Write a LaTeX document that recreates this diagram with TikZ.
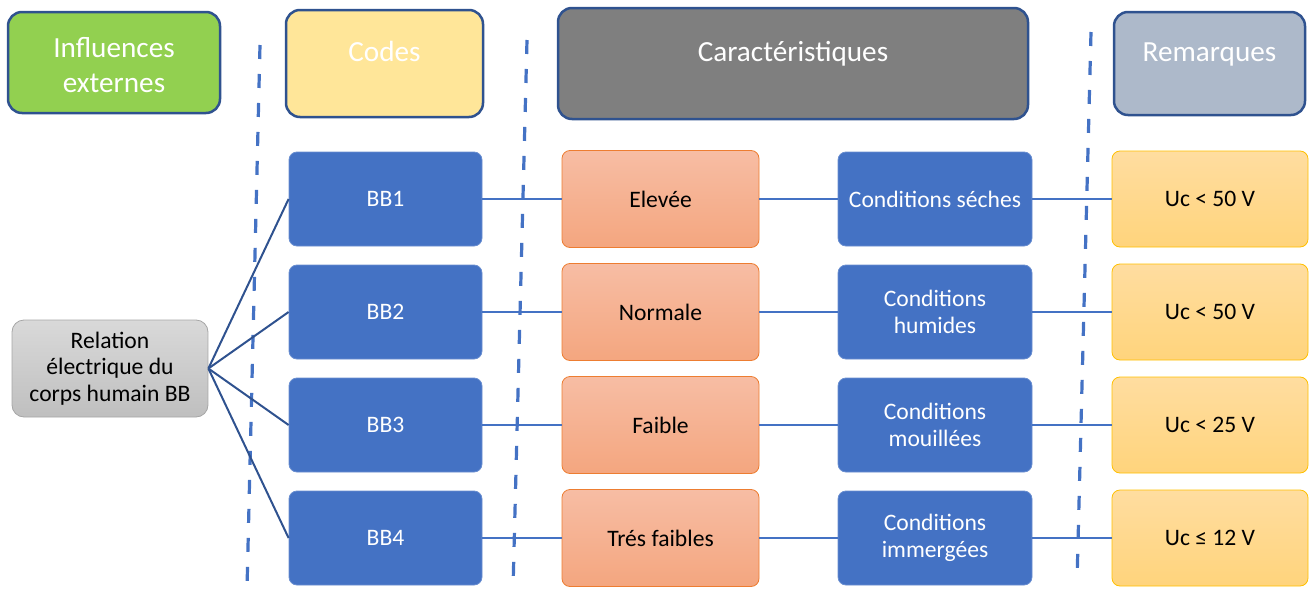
\documentclass[tikz,border=0pt]{standalone}
\usepackage{fontspec}
\setmainfont{Carlito}
\definecolor{hdrborder}{HTML}{2F528F}
\definecolor{accblue}{HTML}{4472C4}
\definecolor{greenfill}{HTML}{92D050}
\definecolor{yellowhdr}{HTML}{FFE699}
\definecolor{grayhdr}{HTML}{7F7F7F}
\definecolor{bluegrayhdr}{HTML}{ADB9CA}
\definecolor{orangetop}{HTML}{F7BDA4}
\definecolor{orangebot}{HTML}{F4A67F}
\definecolor{orangeborder}{HTML}{ED7D31}
\definecolor{goldtop}{HTML}{FFDDA0}
\definecolor{goldbot}{HTML}{FFD47C}
\definecolor{goldborder}{HTML}{FFC000}
\definecolor{reltop}{HTML}{D9D9D9}
\definecolor{relbot}{HTML}{BFBFBF}
\definecolor{relborder}{HTML}{A6A6A6}
\newcommand{\hdrfnt}{\fontsize{29.2}{35}\selectfont}
\newcommand{\bodyfnt}{\fontsize{23.6}{26.5}\selectfont}
\tikzset{
  hdrbox/.style={draw=hdrborder, line width=2.5pt, rounded corners=14pt, inner sep=0pt},
  hdrtext/.style={text=white, font=\hdrfnt, align=center, inner sep=0pt},
  bluebox/.style={draw=accblue!80!white, line width=0.8pt, fill=accblue, rounded corners=8pt,
     minimum width=193pt, minimum height=94pt, inner sep=0pt, text=white, font=\bodyfnt, align=center},
  orangebox/.style={draw=orangeborder, line width=0.8pt, top color=orangetop, bottom color=orangebot, rounded corners=8pt,
     minimum width=197pt, minimum height=97pt, inner sep=0pt, text=black, font=\bodyfnt, align=center},
  condbox/.style={bluebox, minimum width=194pt},
  goldbox/.style={draw=goldborder, line width=0.8pt, top color=goldtop, bottom color=goldbot, rounded corners=8pt,
     minimum width=196pt, minimum height=96pt, inner sep=0pt, text=black, font=\bodyfnt, align=center},
  relbox/.style={draw=relborder, line width=0.8pt, top color=reltop, bottom color=relbot, rounded corners=12pt,
     minimum width=196pt, minimum height=97pt, inner sep=0pt, text=black, font=\bodyfnt, align=center},
  dashline/.style={draw=accblue, line width=3.2pt, dash pattern=on 14pt off 15pt},
  fanline/.style={draw=hdrborder, line width=2pt},
  rowline/.style={draw=accblue, line width=2.4pt},
}
\begin{document}
\begin{tikzpicture}[x=1pt,y=1pt]
\useasboundingbox (0,0) rectangle (1310,-589);
% dashed separators
\draw[dashline] (260,-45) -- (247,-589);
\draw[dashline] (527,-40) -- (513,-589);
\draw[dashline] (1091,-32) -- (1077,-582);
% headers
\node[hdrbox, fill=greenfill, minimum width=212pt, minimum height=101pt] (h1) at (114,-62.5) {};
\node[hdrtext] (h1t) at (114,-65) {Influences\\externes};
\node[hdrbox, fill=yellowhdr, minimum width=197pt, minimum height=107pt] (h2) at (384.5,-63.5) {};
\node[hdrtext, anchor=base] (h2t) at (384.5,-61) {Codes};
\node[hdrbox, fill=grayhdr, minimum width=470pt, minimum height=111pt] (h3) at (793,-63.5) {};
\node[hdrtext, anchor=base] (h3t) at (793,-61) {Caractéristiques};
\node[hdrbox, fill=bluegrayhdr, minimum width=191pt, minimum height=103pt] (h4) at (1209.5,-63.5) {};
\node[hdrtext, anchor=base] (h4t) at (1209.5,-61) {Remarques};
% left node
\node[relbox] (rel) at (110,-368.5) {Relation\\électrique du\\corps humain BB};
% rows
\node[bluebox] (bb1) at (385.5,-199) {BB1};
\node[bluebox] (bb2) at (385.5,-312) {BB2};
\node[bluebox] (bb3) at (385.5,-425) {BB3};
\node[bluebox] (bb4) at (385.5,-538) {BB4};
\node[orangebox] (c1) at (660.5,-199) {Elevée};
\node[orangebox] (c2) at (660.5,-312) {Normale};
\node[orangebox] (c3) at (660.5,-425) {Faible};
\node[orangebox] (c4) at (660.5,-538) {Trés faibles};
\node[condbox] (d1) at (935,-199) {Conditions séches};
\node[condbox] (d2) at (935,-312) {Conditions\\humides};
\node[condbox] (d3) at (935,-425) {Conditions\\mouillées};
\node[condbox] (d4) at (935,-538) {Conditions\\immergées};
\node[goldbox] (r1) at (1210,-199) {Uc < 50 V};
\node[goldbox] (r2) at (1210,-312) {Uc < 50 V};
\node[goldbox] (r3) at (1210,-425) {Uc < 25 V};
\node[goldbox] (r4) at (1210,-538) {Uc ≤ 12 V};
% connectors
\foreach \i in {1,2,3,4}{
  \draw[fanline] (rel.east) -- (bb\i.west);
  \draw[rowline] (bb\i.east) -- (c\i.west);
  \draw[rowline] (c\i.east) -- (d\i.west);
  \draw[rowline] (d\i.east) -- (r\i.west);
}
\end{tikzpicture}
\end{document}
